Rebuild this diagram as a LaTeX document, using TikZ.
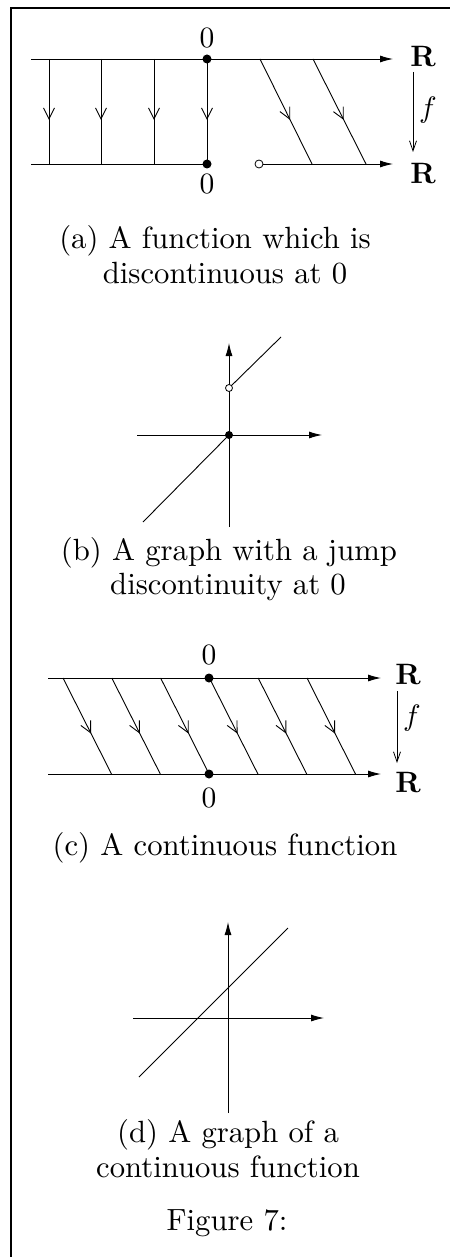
\documentclass[tikz,border=0pt]{standalone}
\usetikzlibrary{arrows.meta,decorations.markings}
\tikzset{
  x=1pt, y=-1pt,
  thinline/.style={line width=0.9pt},
  axisarrow/.style={line width=0.9pt, -{Latex[length=13pt,width=7pt]}},
  maparrow/.style={line width=0.9pt, decoration={markings,
      mark=at position 0.58 with {\arrow{Straight Barb[length=11pt,width=11pt,line width=0.9pt]}}},
      postaction={decorate}},
  farrow/.style={line width=0.8pt, -{Straight Barb[length=10pt,width=7pt,line width=0.8pt]}},
  fdot/.style={circle, fill=black, inner sep=0pt, minimum size=9pt},
  odot/.style={circle, draw=black, fill=white, line width=0.8pt, inner sep=0pt, minimum size=8pt},
  lbl/.style={inner sep=0pt, scale=2.95, transform shape, font=\fontsize{10}{12}\selectfont},
  rlbl/.style={inner sep=0pt, scale=2.95, transform shape, font=\fontsize{10}{12}\selectfont\bfseries},
  captxt/.style={inner sep=0pt, anchor=base, scale=3.07, transform shape, font=\fontsize{10}{12}\selectfont},
}
\begin{document}
\begin{tikzpicture}
\useasboundingbox (0,0) rectangle (450,1257);
% frame
\draw[line width=1.2pt] (11,1257) -- (11,8) -- (450,8);

% ---------------- panel (a)
\coordinate (aTL) at (31,59);
\coordinate (aTR) at (393,59);
\coordinate (aBL) at (31,164);
\coordinate (aBR) at (393,164);
\node[fdot] (aT0) at (207,59) {};
\node[fdot] (aB0) at (207,164) {};
\node[odot] (aO) at (259,164) {};
\draw[axisarrow] (aTL) -- (aTR);
\draw[thinline] (aBL) -- (aB0.center);
\draw[axisarrow] (aO) -- (aBR);
\foreach \x/\n in {49/1,101/2,154/3}{
  \coordinate (at\n) at (\x,59);
  \coordinate (ab\n) at (\x,164);
  \draw[maparrow] (at\n) -- (ab\n);
}
\draw[maparrow] (aT0.center) -- (aB0.center);
\coordinate (as1t) at (260,59); \coordinate (as1b) at (312,164);
\coordinate (as2t) at (313,59); \coordinate (as2b) at (366,164);
\draw[maparrow] (as1t) -- (as1b);
\draw[maparrow] (as2t) -- (as2b);
\node[lbl] (a0t) at (207,38) {0};
\node[lbl] (a0b) at (207,184) {0};
\node[rlbl] (aR1) at (423,57) {R};
\node[rlbl] (aR2) at (423,174) {R};
\coordinate (afs) at (413,72);
\coordinate (afe) at (413,152);
\draw[farrow] (afs) -- (afe);
\node[lbl] (af) at (428,110) {$f$};
\node[captxt] (capa1) at (215,248) {(a) A function which is};
\node[captxt] (capa2) at (225,283) {discontinuous at 0};

% ---------------- panel (b)
\coordinate (bo) at (229,435);
\coordinate (bxl) at (137,435);
\coordinate (bxr) at (322,435);
\coordinate (byb) at (229,527);
\coordinate (byt) at (229,343);
\draw[axisarrow] (bxl) -- (bxr);
\draw[axisarrow] (byb) -- (byt);
\coordinate (bl1) at (143,522);
\draw[thinline] (bl1) -- (bo);
\node[odot, minimum size=7pt] (bjump) at (229,388) {};
\coordinate (bl2) at (281,337);
\draw[thinline] (bjump) -- (bl2);
\node[fdot, minimum size=8pt] (bdot) at (bo) {};
\node[captxt] (capb1) at (229,560) {(b) A graph with a jump};
\node[captxt] (capb2) at (228,594) {discontinuity at 0};

% ---------------- panel (c)
\coordinate (cTL) at (48,678);
\coordinate (cTR) at (381,678);
\coordinate (cBL) at (48,774);
\coordinate (cBR) at (381,774);
\draw[axisarrow] (cTL) -- (cTR);
\draw[axisarrow] (cBL) -- (cBR);
\foreach \k in {0,...,5}{
  \pgfmathsetmacro{\xt}{63+48.8*\k}
  \pgfmathsetmacro{\xb}{111.5+48.8*\k}
  \coordinate (ct\k) at (\xt,678);
  \coordinate (cb\k) at (\xb,774);
  \draw[maparrow] (ct\k) -- (cb\k);
}
\node[fdot] (cT0) at (209,678) {};
\node[fdot] (cB0) at (209,774) {};
\node[lbl] (c0t) at (209,655) {0};
\node[lbl] (c0b) at (209,798) {0};
\node[rlbl] (cR1) at (408,675) {R};
\node[rlbl] (cR2) at (408,783) {R};
\coordinate (cfs) at (397,691);
\coordinate (cfe) at (397,763);
\draw[farrow] (cfs) -- (cfe);
\node[lbl] (cf) at (412,718) {$f$};
\node[captxt] (capc) at (225,855) {(c) A continuous function};

% ---------------- panel (d)
\coordinate (dxl) at (133,1018);
\coordinate (dxr) at (324,1018);
\coordinate (dyb) at (228,1113);
\coordinate (dyt) at (228,922);
\draw[axisarrow] (dxl) -- (dxr);
\draw[axisarrow] (dyb) -- (dyt);
\coordinate (dl1) at (139,1077);
\coordinate (dl2) at (288,928);
\draw[thinline] (dl1) -- (dl2);
\node[captxt] (capd1) at (228,1142) {(d) A graph of a};
\node[captxt] (capd2) at (228,1177) {continuous function};
\node[captxt] (fig) at (227,1230) {Figure 7:};
\end{tikzpicture}
\end{document}
